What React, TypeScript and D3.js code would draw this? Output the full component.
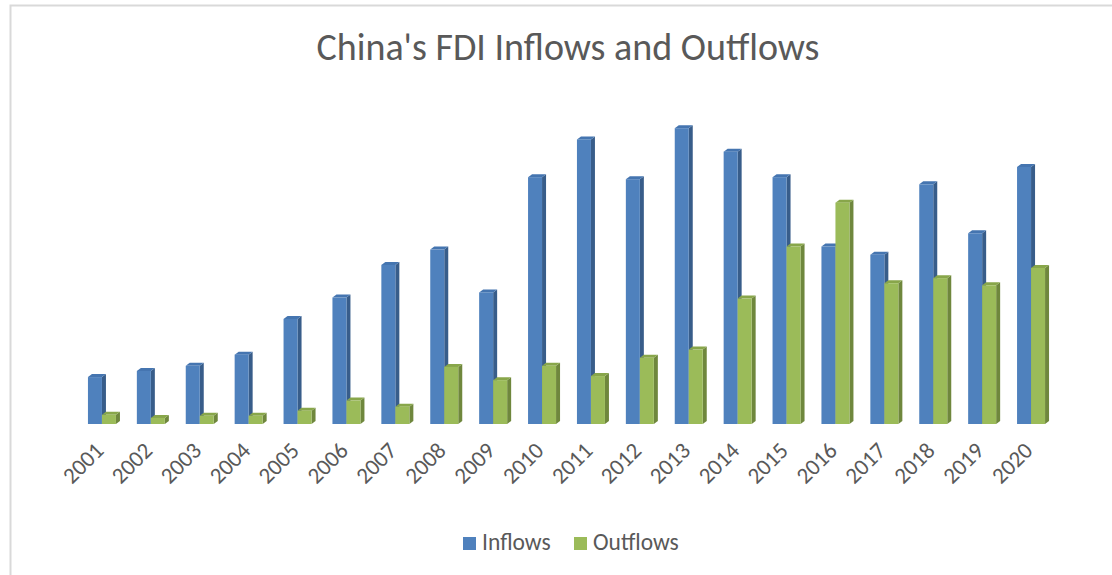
import React from "react";
import * as d3 from "d3";

const years = ["2001","2002","2003","2004","2005","2006","2007","2008","2009","2010","2011","2012","2013","2014","2015","2016","2017","2018","2019","2020"];
const inflows = [46, 52, 57, 68, 103, 124, 156, 171, 129, 242, 279, 240, 290, 267, 242, 174, 166, 235, 187, 252];
const outflows = [9, 6, 8, 8, 13, 23, 17, 56, 43, 57, 47, 65, 73, 123, 174, 217, 138, 143, 136, 153];
const seriesNames = ["Inflows", "Outflows"];

const W = 1112, H = 575;
const baseY = 424;
const FONT = "Calibri, Carlito, 'Open Sans', sans-serif";

const colors = [
  { front: "#4f81bd", side: "#385d8a", top: "#4575b0" },
  { front: "#9bbb59", side: "#6f873d", top: "#88a64a" },
];

export default function App() {
  const x = d3.scaleBand<string>().domain(years).range([77.5, 1055.5]).paddingInner(0).paddingOuter(0);
  const y = d3.scaleLinear().domain([0, 300]).range([baseY, baseY - 306]);
  const bw = 14, dx = 4, dy = 3;

  const bars: JSX.Element[] = [];
  years.forEach((yr, i) => {
    const cx = (x(yr) as number) + x.bandwidth() / 2;
    [inflows[i], outflows[i]].forEach((v, s) => {
      const x0 = cx - bw + s * bw;
      const yt = y(v);
      const c = colors[s];
      bars.push(
        <g key={yr + s}>
          <polygon points={`${x0 + bw},${yt} ${x0 + bw + dx},${yt - dy} ${x0 + bw + dx},${baseY - dy} ${x0 + bw},${baseY}`} fill={c.side} />
          <polygon points={`${x0},${yt} ${x0 + bw},${yt} ${x0 + bw + dx},${yt - dy} ${x0 + dx},${yt - dy}`} fill={c.top} />
          <rect x={x0} y={yt} width={bw} height={baseY - yt} fill={c.front} />
        </g>
      );
    });
  });

  return (
    <div style={{ position: "absolute", left: 0, top: 0 }}>
      <svg width={W} height={H} style={{ display: "block", background: "#fff" }}>
        <rect x={10.5} y={5.5} width={W + 20} height={H + 20} fill="#fff" stroke="#d9d9d9" strokeWidth={2} />
        <text x={568} y={60} textAnchor="middle" fontFamily={FONT} fontSize={38} fill="#595959">China's FDI Inflows and Outflows</text>
        {bars}
        {years.map((yr) => {
          const cx = (x(yr) as number) + x.bandwidth() / 2;
          return (
            <text key={yr} transform={`translate(${cx + 3},${452}) rotate(-45)`} textAnchor="end" fontFamily={FONT} fontSize={23} fill="#595959">{yr}</text>
          );
        })}
        <g>
          <rect x={463} y={537} width={13} height={13} fill={colors[0].front} />
          <text x={482} y={550} fontFamily={FONT} fontSize={23.5} fill="#595959">{seriesNames[0]}</text>
          <rect x={574} y={537} width={13} height={13} fill={colors[1].front} />
          <text x={593} y={550} fontFamily={FONT} fontSize={23.5} fill="#595959">{seriesNames[1]}</text>
        </g>
      </svg>
    </div>
  );
}
